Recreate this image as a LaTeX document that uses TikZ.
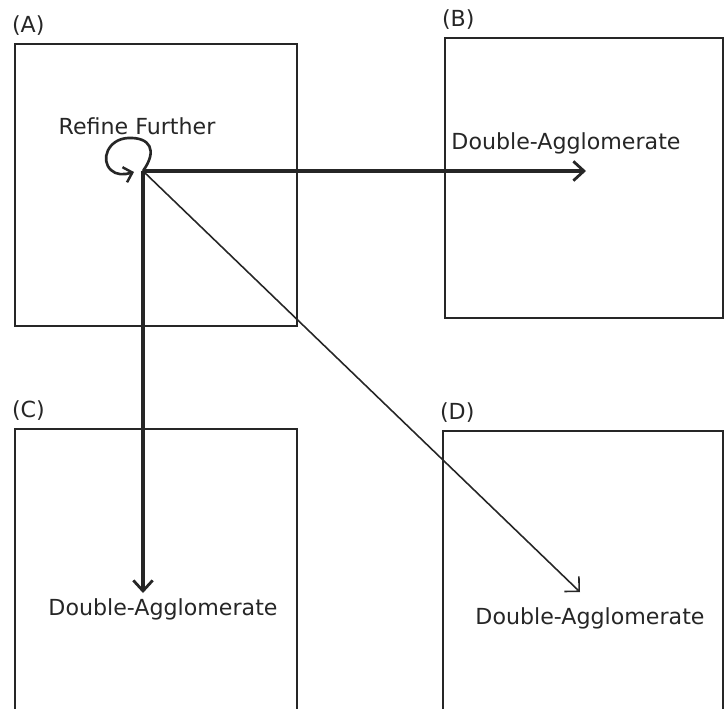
\documentclass[tikz,border=0pt]{standalone}
\usepackage{fontspec}
\setmainfont{DejaVu Sans}
\usetikzlibrary{arrows.meta, positioning}

\begin{document}
\begin{tikzpicture}[x=0.02cm, y=-0.02cm]
    \tikzstyle{panel} = [rectangle, draw=black!85, line width=1.2pt, minimum width=5.64cm, minimum height=5.64cm, anchor=north west, inner sep=0pt]
    \tikzstyle{tag} = [font=\fontsize{12.6}{15}\selectfont, text=black!85, anchor=south west, inner sep=1pt]
    \tikzstyle{caption} = [font=\fontsize{12.6}{15}\selectfont, text=black!85, inner sep=1pt]
    \tikzstyle{bold arrow} = [line width=1.9pt, draw=black!85, -{Straight Barb[length=6pt, width=11pt, line width=1.6pt]}]
    \tikzstyle{thin arrow} = [line width=0.9pt, draw=black!85, -{Straight Barb[length=6pt, width=12pt, line width=0.9pt]}]

    \clip (0,0) rectangle (728,708);

    % the four panels
    \node (boxA) [panel] at (14,43) {};
    \node (boxB) [panel, minimum width=5.56cm, minimum height=5.6cm] at (444,37) {};
    \node (boxC) [panel, minimum height=5.9cm] at (14,428) {};
    \node (boxD) [panel, minimum width=5.6cm, minimum height=5.9cm] at (442,430) {};

    \node (tagA) [tag] at ([xshift=-0.08cm, yshift=0.1cm]boxA.north west) {(A)};
    \node (tagB) [tag] at ([xshift=-0.08cm, yshift=0.1cm]boxB.north west) {(B)};
    \node (tagC) [tag] at ([xshift=-0.08cm, yshift=0.1cm]boxC.north west) {(C)};
    \node (tagD) [tag] at ([xshift=-0.08cm, yshift=0.1cm]boxD.north west) {(D)};

    % moves out of the first panel
    \coordinate (hub) at (143,171);
    \coordinate (endB) at (586,171);
    \coordinate (endC) at (143,593);
    \coordinate (endD) at (580,592);

    \node (refine) [caption] at (137,126) {Refine Further};
    \node (aggB) [caption] at (566,143) {Double-Agglomerate};
    \node (aggC) [caption] at (163,609) {Double-Agglomerate};
    \node (aggD) [caption] at (590,618) {Double-Agglomerate};

    \draw [thin arrow] (hub) -- (endD);
    \draw [bold arrow] (hub) -- (endB);
    \draw [bold arrow] (hub) -- (endC);
    \draw [line width=1.5pt, draw=black!85, -{Straight Barb[length=4.5pt, width=9pt, line width=1.4pt]}]
        (hub) .. controls (158,150) and (150,137) .. (128,138)
        .. controls (108,139) and (100,160) .. (111,170)
        .. controls (116,175) and (124,175) .. (134,172);
\end{tikzpicture}
\end{document}
